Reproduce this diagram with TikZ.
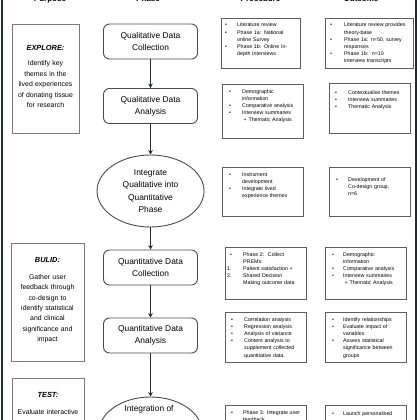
\documentclass[tikz,border=0pt]{standalone}
\usepackage{fontspec}
\setmainfont{Liberation Sans}
\usetikzlibrary{arrows.meta,shapes.geometric}
\definecolor{navy}{HTML}{1E2B38}
\definecolor{pgrey}{HTML}{7A7A7A}
\definecolor{bgrey}{HTML}{5E5E5E}
\definecolor{rgrey}{HTML}{4A4A4A}
\newlength\itemind
\newlength\bulind
\newcommand{\bi}[1]{\noindent\hangindent=\itemind\hangafter=1\makebox[\itemind][l]{\hspace{\bulind}\textbullet}#1\par}
\newcommand{\numitem}[2]{\noindent\hangindent=\itemind\hangafter=1\makebox[\itemind][l]{\hspace{2pt}#1}#2\par}
\newcommand{\setind}[2]{\setlength\bulind{#1}\setlength\itemind{#2}}
\begin{document}
\begin{tikzpicture}[x=1pt,y=-1pt,
  header/.style={font=\fontsize{8}{9}\selectfont\bfseries, anchor=base, inner sep=0},
  purpbox/.style={draw=pgrey, line width=0.8pt, anchor=north west, inner sep=0},
  purptxt/.style={align=center, inner sep=0, anchor=base, font=\fontsize{6.9}{10.4}\selectfont},
  phasebox/.style={draw=rgrey, line width=0.9pt, rounded corners=6pt, minimum width=94pt, minimum height=35pt, inner sep=0, align=center, font=\fontsize{8.4}{12.3}\selectfont},
  phaseell/.style={ellipse, draw=rgrey, line width=0.9pt, minimum width=107pt, minimum height=72pt, inner sep=0, align=center, font=\fontsize{8.4}{12.3}\selectfont},
  procbox/.style={draw=bgrey, line width=0.8pt, anchor=north west, inner sep=0},
  proctxt/.style={align=left, inner sep=0, anchor=base west, font=\fontsize{5.3}{7.2}\selectfont},
  arr/.style={draw=navy, line width=1.4pt, -{Stealth[length=4.5pt,width=4.5pt]}},
  frame/.style={draw=navy, line width=2pt}
]
\useasboundingbox (0,0) rectangle (420,420);

% side frame lines
\draw[frame] (2,-5) -- (2,425);
\draw[frame] (415.5,-5) -- (415.5,425);

% headers
\node[header] (hpurpose) at (50,2) {Purpose};
\node[header] (hphase) at (148,2) {Phase};
\node[header] (hproc) at (260.5,2) {Procedure};
\node[header] (hout) at (361,2) {Outcome};

% purpose boxes
\node[purpbox, minimum width=67pt, minimum height=109pt] (explore) at (12,24) {};
\node[purptxt, text width=67pt] (exploret) at (45.5,50.7) {{\fontsize{7.4}{10.4}\selectfont\bfseries\itshape EXPLORE:}\\[4.9pt]Identify key\\themes in the\\lived experiences\\of donating tissue\\for research};

\node[purpbox, minimum width=73pt, minimum height=118pt] (build) at (11,243) {};
\node[purptxt, text width=73pt] (buildt) at (47.5,262.7) {{\fontsize{7.4}{10.4}\selectfont\bfseries\itshape BULID:}\\[6.2pt]Gather user\\feedback through\\co-design to\\identify statistical\\and clinical\\significance and\\impact};

\node[purpbox, minimum width=72pt, minimum height=90pt] (test) at (12,378) {};
\node[purptxt, text width=72pt] (testt) at (48,397.7) {{\fontsize{7.4}{10.4}\selectfont\bfseries\itshape TEST:}\\[6.8pt]Evaluate interactive};

% phase column
\node[phasebox] (qdc) at (150.5,41.5) {Qualitative Data\\Collection};
\node[phasebox] (qda) at (150.5,106) {Qualitative Data\\Analysis};
\node[phaseell] (int1) at (150.5,191) {Integrate\\Qualitative into\\Quantitative\\Phase};
\node[phasebox] (qtdc) at (150.5,267.5) {Quantitative Data\\Collection};
\node[phasebox] (qtda) at (150.5,335.5) {Quantitative Data\\Analysis};
\node[ellipse, draw=rgrey, line width=0.9pt, minimum width=104pt, minimum height=72pt, inner sep=0] (int2) at (150.5,433) {};
\node[font=\fontsize{8.4}{12.3}\selectfont, anchor=base, inner sep=0] (int2t) at (149,411) {Integration of};

\draw[arr] (qdc.south) -- (qda.north);
\draw[arr] (qda.south) -- (int1.north);
\draw[arr] (int1.south) -- (qtdc.north);
\draw[arr] (qtdc.south) -- (qtda.north);
\draw[arr] (qtda.south) -- (int2.north);

% procedure boxes
\node[procbox, minimum width=79pt, minimum height=50pt] (p1) at (221,18) {};
\node[proctxt, text width=79pt] (p1t) at (221,27) {\setind{4pt}{16pt}%
\bi{Literature review}%
\bi{Phase 1a: National\newline online Survey}%
\bi{Phase 1b: Online In-\newline depth Interviews}};

\node[procbox, minimum width=81pt, minimum height=54pt] (p2) at (222,84) {};
\node[proctxt, text width=81pt] (p2t) at (222,93) {\setind{7pt}{20pt}%
\bi{Demographic\newline information}%
\bi{Comparative analysis}%
\bi{Interview summaries\newline\hspace*{1.5pt}+ Thematic Analysis}};

\node[procbox, minimum width=81pt, minimum height=49pt] (p3) at (222,167) {};
\node[proctxt, text width=81pt] (p3t) at (222,176) {\setind{7pt}{20pt}%
\bi{Instrument\newline development}%
\bi{Integrate lived\newline experience themes}};

\node[procbox, minimum width=81pt, minimum height=52pt] (p4) at (225,247) {};
\node[proctxt, text width=81pt] (p4t) at (225,256) {\setind{5pt}{18pt}%
\bi{Phase 2:\ \ Collect\newline PREMs:}%
\numitem{1.}{Patient satisfaction +}%
\numitem{2.}{Shared Decision\newline Making outcome data}};

\node[procbox, minimum width=81pt, minimum height=50pt] (p5) at (225,312) {};
\node[proctxt, text width=81pt] (p5t) at (225,321) {\setind{6pt}{19pt}%
\bi{Correlation analysis}%
\bi{Regression analysis}%
\bi{Analysis of variance}%
\bi{Content analysis to\newline supplement collected\newline quantitative data.}};

\node[procbox, minimum width=81pt, minimum height=60pt] (p6) at (225,405) {};
\node[proctxt, text width=81pt] (p6t) at (225,414) {\setind{6pt}{18pt}%
\bi{Phase 3: Integrate user\newline feedback}};

% outcome boxes
\node[procbox, minimum width=88pt, minimum height=50pt] (o1) at (325,18) {};
\node[proctxt, text width=88pt] (o1t) at (325,27) {\setind{5pt}{19pt}%
\bi{Literature review provides\newline theory-base}%
\bi{Phase 1a: n=50, survey\newline responses}%
\bi{Phase 1b:\ \ n=10\newline interview transcripts}};

\node[procbox, minimum width=81pt, minimum height=50pt] (o2) at (329,83) {};
\node[proctxt, text width=81pt] (o2t) at (329,94) {\setind{6pt}{19pt}%
\bi{Contextualise themes}%
\bi{Interview\ summaries}%
\bi{Thematic Analysis}};

\node[procbox, minimum width=81pt, minimum height=49pt] (o3) at (329,167) {};
\node[proctxt, text width=81pt] (o3t) at (329,181) {\setind{7pt}{19pt}%
\bi{Development of\newline Co-design group,\newline n=6}};

\node[procbox, minimum width=81pt, minimum height=52pt] (o4) at (325,247) {};
\node[proctxt, text width=81pt] (o4t) at (325,256) {\setind{7pt}{18pt}%
\bi{Demographic\newline information}%
\bi{Comparative analysis}%
\bi{Interview summaries\newline\hspace*{1.5pt}+ Thematic Analysis}};

\node[procbox, minimum width=81pt, minimum height=50pt] (o5) at (325,312) {};
\node[proctxt, text width=81pt] (o5t) at (325,321) {\setind{7pt}{18pt}%
\bi{Identify relationships}%
\bi{Evaluate impact of\newline variables}%
\bi{Assess statistical\newline significance\ between\newline groups}};

\node[procbox, minimum width=81pt, minimum height=60pt] (o6) at (325,405) {};
\node[proctxt, text width=81pt] (o6t) at (325,415) {\setind{7pt}{18pt}%
\bi{Launch personalised}};
\end{tikzpicture}
\end{document}
